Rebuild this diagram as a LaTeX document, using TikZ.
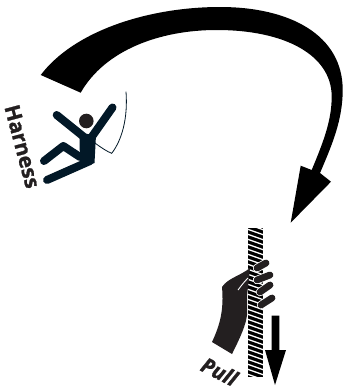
\documentclass[tikz,border=0pt]{standalone}
\usepackage{fontspec}
\setmainfont{Open Sans}
\newfontfamily\heavyfont[FakeBold=1.2]{Open Sans Bold}
\definecolor{navy}{HTML}{021827}
\definecolor{ink}{HTML}{231F20}
\tikzset{
  limb/.style={draw=navy,line width=8pt,line cap=round,line join=round},
  lbl/.style={text=ink,inner sep=0pt},
  fingerhalo/.style={draw=white,line width=8.4pt,line cap=round},
  fingerbar/.style={draw=ink,line width=6.8pt,line cap=round},
}
\begin{document}
\begin{tikzpicture}[x=1pt,y=-1pt]
\useasboundingbox (0,0) rectangle (343,391);
\fill[black] (40.7,75) .. controls (75,30) and (150,7) .. (220,7)
 .. controls (290,7) and (342.7,35) .. (342.7,90)
 .. controls (342.7,120) and (332,145) .. (320,173)
 -- (331,181.7) -- (290.7,222.7) -- (300.7,165.7) -- (311.7,170)
 .. controls (322,145) and (331.7,122) .. (331.7,96.7)
 .. controls (331.7,55) and (285,30) .. (216.7,30)
 .. controls (160,30) and (105,50) .. (80.7,92.7) -- cycle;
\fill[ink] (86.3,121) circle (7.3);
\draw[limb] (56.7,115) -- (84,137);
\draw[limb] (112.5,107.5) -- (91,138);
\draw[limb] (44,161) -- (63.3,146) -- (80,157);
\draw[limb] (47,180) -- (90,161);
\fill[navy] (79.5,133) -- (96,135) -- (94.5,163) -- (80,168) -- cycle;
\draw[navy,line width=.8pt] (126,91.7) .. controls (128,118) and (122,140) .. (111.7,153.3) .. controls (108,152) and (100,147) .. (95,143);
\node[lbl,font=\heavyfont\fontsize{21}{21}\selectfont,rotate=-75] (harness) at (22.5,146.5) {Harness};
\begin{scope}
\clip (248,228) rectangle (263,377);
\fill[black] (248,228) rectangle (263,377);
\foreach \yy in {224,229,...,382}
  \draw[white,line width=1.3pt] (247,\yy) -- (264,\yy+6);
\end{scope}
\fill[ink] (250,268) .. controls (240,276) and (228,278) .. (222,287) .. controls (224,310) and (220,325) .. (212,342) -- (232,354) .. controls (240,338) and (246,325) .. (247,315) -- (247,296) -- cycle;
\draw[white,line width=.9pt] (248,278) .. controls (244,282) and (241,286) .. (238,290);
\draw[fingerhalo] (257,268) -- (266,263);
\draw[fingerhalo] (257,280) -- (270,275);
\draw[fingerhalo] (260,292) -- (270,285);
\draw[fingerhalo] (261,305) -- (272,298);
\draw[fingerbar] (257,268) -- (266,263);
\draw[fingerbar] (257,280) -- (270,275);
\draw[fingerbar] (260,292) -- (270,285);
\draw[fingerbar] (261,305) -- (272,298);
\fill[black] (271.7,315.7) -- (279.3,315.7) -- (279.3,350) -- (286,350) -- (275,385) -- (265,350) -- (271.7,350) -- cycle;
\node[lbl,font=\heavyfont\itshape\fontsize{21}{21}\selectfont,rotate=-27] (pull) at (219.5,371.5) {Pull};
\end{tikzpicture}
\end{document}
